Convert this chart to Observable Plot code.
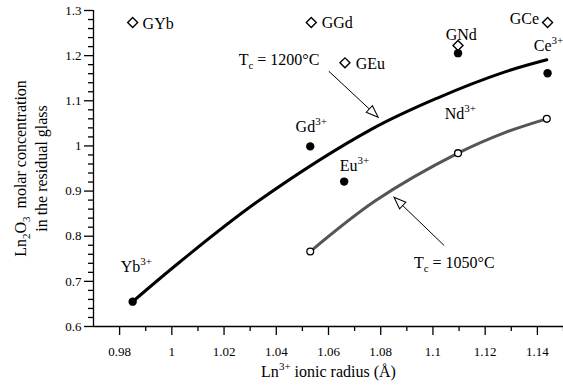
<!DOCTYPE html>
<html><head><meta charset="utf-8">
<script src="https://cdn.jsdelivr.net/npm/d3@7"></script>
<script src="https://cdn.jsdelivr.net/npm/@observablehq/plot@0.6"></script>
<style>body{margin:0;background:#fff}</style>
</head><body><div id="chart"></div>
<script>
// Measured points (Tc = 1200°C, filled circles)
const radius1200 = [0.985, 1.053, 1.066, 1.1096, 1.1439];
const conc1200 = [0.655, 0.999, 0.921, 1.2055, 1.161];
// Measured points (Tc = 1050°C, open circles)
const radius1050 = [1.053, 1.1096, 1.1436];
const conc1050 = [0.766, 0.984, 1.060];
// Glass compositions (diamonds)
const glassNames = ["GYb", "GGd", "GEu", "GNd", "GCe"];
const glassRadius = [0.985, 1.0534, 1.0663, 1.1096, 1.1439];
const glassConc = [1.2735, 1.2735, 1.184, 1.2225, 1.2735];
// Fitted curves
const fit1200X = [0.985, 1.0033, 1.0334, 1.0762, 1.1017, 1.1273, 1.1436];
const fit1200Y = [0.655, 0.744, 0.879, 1.036, 1.106, 1.1634, 1.1908];
const fit1050X = [1.053, 1.0781, 1.1096, 1.1273, 1.1436];
const fit1050Y = [0.766, 0.879, 0.984, 1.029, 1.060];
// Labels (left edge x, vertical centre y, in data units)
const labelText = ["Yb{^3+}", "Gd{^3+}", "Eu{^3+}", "Nd{^3+}", "Ce{^3+}", "GYb", "GGd", "GEu", "GNd", "GCe", "T{_c} = 1200°C", "T{_c} = 1050°C"];
const labelX = [0.9804, 1.0474, 1.0643, 1.1045, 1.1386, 0.9888, 1.0574, 1.0704, 1.1049, 1.1294, 1.0256, 1.0927];
const labelY = [0.733, 1.043, 0.9567, 1.0719, 1.2225, 1.271, 1.2735, 1.1826, 1.247, 1.281, 1.1915, 0.7407];
// Arrows: tail -> tip
const arrowX1 = [1.0601, 1.1043];
const arrowY1 = [1.1656, 0.7794];
const arrowX2 = [1.0790, 1.0851];
const arrowY2 = [1.0637, 0.8864];
// Ticks
const xMajor = [0.98, 1.00, 1.02, 1.04, 1.06, 1.08, 1.10, 1.12, 1.14];
const xMinor = [0.99, 1.01, 1.03, 1.05, 1.07, 1.09, 1.11, 1.13, 1.15];
const yMajor = [0.6, 0.7, 0.8, 0.9, 1.0, 1.1, 1.2, 1.3];
const yMinor = [0.62, 0.64, 0.66, 0.68, 0.72, 0.74, 0.76, 0.78, 0.82, 0.84, 0.86, 0.88, 0.92, 0.94, 0.96, 0.98, 1.02, 1.04, 1.06, 1.08, 1.12, 1.14, 1.16, 1.18, 1.22, 1.24, 1.26, 1.28];

const zip = (xs, ys) => xs.map((x, i) => ({x, y: ys[i]}));
const fmt = d => String(+d.toFixed(2));
const font = "'Liberation Serif', 'Times New Roman', serif";

const svg = Plot.plot({
  width: 563, height: 386,
  marginLeft: 93, marginRight: 0, marginTop: 10, marginBottom: 60,
  style: `font-family: ${font}; font-size: 13px; background: #fff; color: #000;`,
  x: {domain: [0.97, 1.15]},
  y: {domain: [0.6, 1.3]},
  marks: [
    Plot.axisX({ticks: xMajor, tickSize: 9, tickPadding: 11, tickFormat: fmt, label: null, strokeWidth: 1.3, fontFamily: font}),
    Plot.axisX({ticks: xMinor, tickSize: 5, tickFormat: () => "", label: null, strokeWidth: 1.3}),
    Plot.axisY({ticks: yMajor, tickSize: 9, tickPadding: 3, tickFormat: fmt, label: null, strokeWidth: 1.3, fontFamily: font}),
    Plot.axisY({ticks: yMinor, tickSize: 5, tickFormat: () => "", label: null, strokeWidth: 1.3}),
    Plot.ruleY([0.6], {stroke: "#000", strokeWidth: 1.3}),
    Plot.ruleX([0.97], {stroke: "#000", strokeWidth: 1.3}),
    Plot.line(zip(fit1200X, fit1200Y), {x: "x", y: "y", curve: "catmull-rom", stroke: "#000", strokeWidth: 3}),
    Plot.line(zip(fit1050X, fit1050Y), {x: "x", y: "y", curve: "catmull-rom", stroke: "#555", strokeWidth: 3}),
    Plot.link(arrowX1.map((x, i) => ({x1: x, y1: arrowY1[i], x2: arrowX2[i], y2: arrowY2[i]})),
      {x1: "x1", y1: "y1", x2: "x2", y2: "y2", stroke: "#000", strokeWidth: 1, markerEnd: "arrow"}),
    Plot.dot(zip(radius1200, conc1200), {x: "x", y: "y", r: 4.2, fill: "#000", stroke: "none"}),
    Plot.dot(zip(radius1050, conc1050), {x: "x", y: "y", r: 3.4, fill: "#fff", stroke: "#000", strokeWidth: 1.3}),
    Plot.dot(zip(glassRadius, glassConc), {x: "x", y: "y", r: 4.5, symbol: "diamond2", fill: "#fff", stroke: "#000", strokeWidth: 1.4}),
    Plot.text(labelText.map((t, i) => ({t, x: labelX[i], y: labelY[i]})),
      {x: "x", y: "y", text: "t", textAnchor: "start", lineAnchor: "middle", fontSize: 16, fill: "#000", fontFamily: font}),
    Plot.text(["Ln{^3+} ionic radius (Å)"], {frameAnchor: "bottom", textAnchor: "middle", dy: 50, text: d => d, fontSize: 16, fill: "#000", fontFamily: font}),
    Plot.text(["Ln{_2}O{_3}  molar concentration"], {frameAnchor: "left", textAnchor: "middle", lineAnchor: "middle", dx: -73, rotate: -90, text: d => d, fontSize: 16, fill: "#000", fontFamily: font}),
    Plot.text(["in the residual glass"], {frameAnchor: "left", textAnchor: "middle", lineAnchor: "middle", dx: -52, rotate: -90, text: d => d, fontSize: 16, fill: "#000", fontFamily: font})
  ]
});

// Rich text: {^...} superscript, {_...} subscript
const ns = "http://www.w3.org/2000/svg";
svg.querySelectorAll("text").forEach(t => {
  const s = t.textContent;
  if (!s.includes("{")) return;
  t.textContent = "";
  const re = /\{([_^])([^}]*)\}/g;
  let last = 0, m, shift = 0;
  const add = (str, kind) => {
    const ts = document.createElementNS(ns, "tspan");
    ts.textContent = str;
    const target = kind === "^" ? -7 : kind === "_" ? 4 : 0;
    const dy = target - shift;
    if (dy) ts.setAttribute("dy", dy);
    shift = target;
    if (kind) ts.setAttribute("font-size", "11");
    t.appendChild(ts);
  };
  while ((m = re.exec(s))) {
    if (m.index > last) add(s.slice(last, m.index), null);
    add(m[2], m[1]);
    last = re.lastIndex;
  }
  if (last < s.length) add(s.slice(last), null);
});

// Open triangular arrowheads
let defs = svg.querySelector("defs");
if (!defs) { defs = document.createElementNS(ns, "defs"); svg.insertBefore(defs, svg.firstChild); }
const mk = document.createElementNS(ns, "marker");
mk.setAttribute("id", "openhead");
mk.setAttribute("viewBox", "-13 -6 14 12");
mk.setAttribute("refX", "0"); mk.setAttribute("refY", "0");
mk.setAttribute("markerWidth", "14"); mk.setAttribute("markerHeight", "12");
mk.setAttribute("markerUnits", "userSpaceOnUse");
mk.setAttribute("orient", "auto");
const hp = document.createElementNS(ns, "path");
hp.setAttribute("d", "M0,0L-12,-4.5L-12,4.5Z");
hp.setAttribute("fill", "#fff"); hp.setAttribute("stroke", "#000"); hp.setAttribute("stroke-width", "1");
mk.appendChild(hp); defs.appendChild(mk);
svg.querySelectorAll("[marker-end]").forEach(p => p.setAttribute("marker-end", "url(#openhead)"));

document.getElementById("chart").appendChild(svg);
</script>
</body></html>
